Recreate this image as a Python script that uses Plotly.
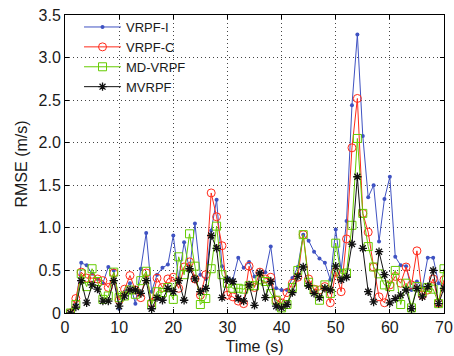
import plotly.graph_objects as go

time_s = list(range(1, 71))

vrpf_i = [0.00, 0.10, 0.59, 0.56, 0.46, 0.40, 0.35, 0.54, 0.50, 0.05,
          0.25, 0.35, 0.11, 0.52, 0.94, 0.25, 0.45, 0.53, 0.57, 0.91,
          0.40, 0.83, 0.50, 1.05, 0.45, 0.40, 0.97, 1.33, 0.55, 0.41,
          0.39, 0.65, 0.53, 0.60, 0.43, 0.47, 0.48, 0.78, 0.29, 0.27,
          0.27, 0.41, 0.54, 0.92, 0.85, 0.72, 0.64, 0.59, 0.39, 0.98,
          0.50, 1.08, 2.44, 3.27, 2.08, 1.36, 1.50, 0.84, 1.34, 1.60,
          0.66, 0.56, 0.55, 0.27, 0.37, 0.30, 0.65, 0.65, 0.35, 0.30]

vrpf_c = [0.00, 0.17, 0.48, 0.41, 0.41, 0.40, 0.38, 0.30, 0.47, 0.15,
          0.28, 0.44, 0.27, 0.18, 0.47, 0.12, 0.41, 0.30, 0.40, 0.42,
          0.29, 0.54, 0.60, 0.40, 0.21, 0.45, 1.41, 1.13, 0.79, 0.21,
          0.19, 0.14, 0.11, 0.55, 0.30, 0.48, 0.40, 0.42, 0.15, 0.12,
          0.24, 0.35, 0.42, 0.92, 0.40, 0.28, 0.27, 0.31, 0.12, 0.48,
          0.25, 0.87, 1.94, 2.52, 1.17, 0.95, 0.54, 0.19, 0.12, 0.33,
          0.43, 0.35, 0.54, 0.33, 0.73, 0.21, 0.27, 0.40, 0.12, 0.39]

md_vrpf = [0.00, 0.10, 0.46, 0.31, 0.52, 0.37, 0.16, 0.20, 0.48, 0.18,
           0.20, 0.27, 0.22, 0.38, 0.49, 0.10, 0.25, 0.24, 0.30, 0.16,
           0.66, 0.45, 0.93, 0.55, 0.10, 0.17, 0.52, 1.02, 0.45, 0.35,
           0.29, 0.29, 0.28, 0.32, 0.32, 0.39, 0.37, 0.23, 0.15, 0.06,
           0.10, 0.30, 0.50, 0.92, 0.36, 0.27, 0.15, 0.33, 0.23, 0.82,
           0.46, 0.47, 1.03, 2.05, 1.17, 0.78, 0.54, 0.46, 0.33, 0.31,
           0.50, 0.10, 0.35, 0.06, 0.31, 0.25, 0.30, 0.28, 0.11, 0.52]

mvrpf = [0.00, 0.07, 0.38, 0.12, 0.33, 0.28, 0.14, 0.14, 0.38, 0.08,
         0.20, 0.27, 0.27, 0.23, 0.38, 0.05, 0.18, 0.15, 0.29, 0.25,
         0.38, 0.15, 0.52, 0.40, 0.25, 0.29, 0.91, 0.76, 0.18, 0.39,
         0.37, 0.17, 0.14, 0.33, 0.09, 0.47, 0.18, 0.37, 0.08, 0.06,
         0.10, 0.24, 0.43, 0.54, 0.32, 0.23, 0.18, 0.29, 0.27, 0.55,
         0.39, 0.42, 0.81, 1.60, 0.76, 0.25, 0.13, 0.72, 0.45, 0.12,
         0.17, 0.21, 0.27, 0.05, 0.29, 0.19, 0.31, 0.50, 0.11, 0.29]

x_ticks = [0, 10, 20, 30, 40, 50, 60, 70]
y_ticks = [0, 0.5, 1.0, 1.5, 2.0, 2.5, 3.0, 3.5]
y_tick_labels = ["0", "0.5", "1.0", "1.5", "2.0", "2.5", "3.0", "3.5"]

FONT = "Liberation Sans, Arial, sans-serif"
TXT = "#1a1a1a"

fig = go.Figure()
fig.add_trace(go.Scatter(
    x=time_s, y=vrpf_i, name="VRPF-I", mode="lines+markers",
    line=dict(color="#3f52c2", width=1),
    marker=dict(symbol="circle", size=4, color="#3f52c2")))
fig.add_trace(go.Scatter(
    x=time_s, y=vrpf_c, name="VRPF-C", mode="lines+markers",
    line=dict(color="#ff2a1a", width=1),
    marker=dict(symbol="circle-open", size=8, color="#ff2a1a",
                line=dict(width=1))))
fig.add_trace(go.Scatter(
    x=time_s, y=md_vrpf, name="MD-VRPF", mode="lines+markers",
    line=dict(color="#66cc00", width=1),
    marker=dict(symbol="square-open", size=8, color="#66cc00",
                line=dict(width=1))))
fig.add_trace(go.Scatter(
    x=time_s, y=mvrpf, name="MVRPF", mode="lines+markers",
    line=dict(color="#111111", width=1),
    marker=dict(symbol="asterisk-open", size=7, color="#111111",
                line=dict(width=1.3, color="#111111"))))

axis_common = dict(
    showline=True, linecolor="black", linewidth=1, mirror="ticks",
    ticks="inside", ticklen=4, tickcolor="black",
    showgrid=True, gridcolor="#444444", griddash="1px,3px", gridwidth=1,
    zeroline=False, automargin=False,
    tickfont=dict(family=FONT, size=16, color=TXT),
)

fig.update_xaxes(range=[0, 70], tickvals=x_ticks,
                 title=dict(text="Time (s)", font=dict(family=FONT, size=16, color=TXT),
                            standoff=5),
                 **axis_common)
fig.update_yaxes(range=[0, 3.5], tickvals=y_ticks, ticktext=y_tick_labels,
                 title=dict(text="RMSE (m/s)", font=dict(family=FONT, size=16, color=TXT),
                            standoff=6),
                 **axis_common)

fig.update_layout(
    width=454, height=356,
    margin=dict(l=65, r=10, t=15, b=43),
    paper_bgcolor="white", plot_bgcolor="white",
    font=dict(family=FONT, size=14, color=TXT),
    legend=dict(x=0.037, y=1.01, xanchor="left", yanchor="top",
                bgcolor="rgba(255,255,255,0)", borderwidth=0,
                font=dict(family=FONT, size=13, color=TXT),
                tracegroupgap=0, itemwidth=37),
    showlegend=True,
)

fig.write_html("out.html")
